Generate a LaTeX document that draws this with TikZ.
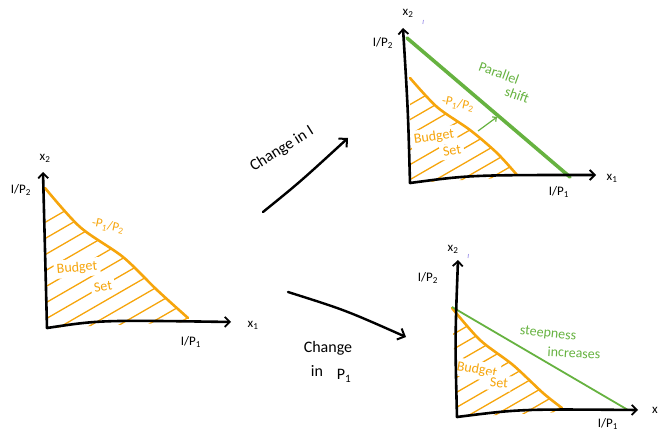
\documentclass[tikz,border=0pt]{standalone}
\usepackage{fontspec}
\setmainfont{Carlito}
\usetikzlibrary{arrows.meta}
\definecolor{budgetorange}{RGB}{246,165,12}
\definecolor{shiftgreen}{RGB}{102,178,64}
\definecolor{tickpurple}{RGB}{165,155,235}
\newcommand{\sub}[1]{\textsubscript{#1}}

\begin{document}
\begin{tikzpicture}[x=1pt, y=-1pt,
    axis/.style={line width=2.6pt, line cap=round, -{Straight Barb[length=5pt,width=10pt,line width=1.8pt]}},
    budget/.style={budgetorange, line width=2.6pt, line cap=round},
    hatch/.style={budgetorange, line width=1.3pt},
    lbl/.style={font=\fontsize{13}{15}\selectfont, inner sep=1pt},
    note/.style={font=\fontsize{14}{16}\selectfont, inner sep=1pt},
    setnote/.style={note, budgetorange, fill=white, inner sep=3pt},
    bignote/.style={font=\fontsize{16}{18}\selectfont, inner sep=1pt},
    bigarrow/.style={line width=2.4pt, line cap=round, -{Straight Barb[length=6pt,width=12pt,line width=2pt]}}]
\useasboundingbox (0,0) rectangle (662,436);

% left: the budget set
\coordinate (lO) at (47,328);
\begin{scope}
  \clip plot[smooth] coordinates {(45,188) (80,227) (123,257) (157,290) (188,318)} -- (188,322) -- (lO) -- cycle;
  \foreach \s in {-150,-122,...,200}
    \draw[hatch] (\s,335) -- ++(30:260pt);
\end{scope}
\node[setnote, rotate=5] (lbud) at (77,268) {Budget};
\node[setnote, rotate=10] (lset) at (103,287) {Set};
\draw[budget] plot[smooth] coordinates {(45,188) (80,227) (123,257) (157,290) (188,318)};
\draw[axis] (lO) .. controls (45,250) .. (43,172);
\draw[axis] (lO) .. controls (100,320) .. (231,322);
\node[lbl] (lx2) at (45,158) {x\sub{2}};
\node[lbl] (lI2) at (21,190) {I/P\sub{2}};
\node[lbl] (lx1) at (253,325) {x\sub{1}};
\node[lbl] (lI1) at (191,342) {I/P\sub{1}};
\node[lbl, budgetorange, rotate=-12] (lslope) at (108,226) {-P\sub{1}/P\sub{2}};

% top right: change in I
\coordinate (tO) at (410,183);
\begin{scope}
  \clip plot[smooth] coordinates {(410,78) (437,107) (470,130) (497,153) (517,175)} -- (517,177) -- (tO) -- cycle;
  \foreach \s in {236,262,...,540}
    \draw[hatch] (\s,190) -- ++(30:200pt);
\end{scope}
\node[setnote, rotate=8] (tbud) at (434,137) {Budget};
\node[setnote, rotate=10] (tset) at (452,151) {Set};
\draw[budget] plot[smooth] coordinates {(410,78) (437,107) (470,130) (497,153) (517,175)};
\draw[shiftgreen, line width=3.6pt, line cap=round] (407,38) -- (570,177);
\draw[axis] (tO) .. controls (408,110) .. (403,28);
\draw[axis] (tO) .. controls (470,175) .. (596,175);
\draw[tickpurple, line width=0.8pt] (423.5,20) -- (422.8,24);
\draw[shiftgreen, line width=1.2pt, -{Straight Barb[length=3pt,width=6pt]}] (478,131) -- (497,117);
\node[lbl] (tx2) at (408,13) {x\sub{2}};
\node[lbl] (tI2) at (383,43) {I/P\sub{2}};
\node[lbl] (tx1) at (612,178) {x\sub{1}};
\node[lbl] (tI1) at (559,192) {I/P\sub{1}};
\node[lbl, budgetorange, rotate=-12] (tslope) at (458,104) {-P\sub{1}/P\sub{2}};
\node[note, shiftgreen, rotate=-20] (tpar) at (499,73) {Parallel};
\node[note, shiftgreen, rotate=-20] (tshift) at (517,95) {shift};

% bottom right: change in P1
\coordinate (bO) at (457,417);
\begin{scope}
  \clip plot[smooth] coordinates {(452,308) (480,340) (513,365) (543,393) (562,408)} -- (562,412) -- (bO) -- cycle;
  \foreach \s in {296,322,...,580}
    \draw[hatch] (\s,425) -- ++(30:200pt);
\end{scope}
\node[setnote, rotate=-10] (bbud) at (477,370) {Budget};
\node[setnote, rotate=-5] (bset) at (499,383) {Set};
\draw[budget] plot[smooth] coordinates {(452,308) (480,340) (513,365) (543,393) (562,408)};
\draw[shiftgreen, line width=1.8pt] (452,307) -- (628,410);
\draw[axis] (bO) .. controls (455,340) .. (458,260);
\draw[axis] (bO) .. controls (520,409) .. (638,410);
\draw[tickpurple, line width=0.8pt] (468.5,254) -- (468,258);
\node[lbl] (bx2) at (453,249) {x\sub{2}};
\node[lbl] (bI2) at (428,278) {I/P\sub{2}};
\node[lbl] (bx) at (655,410) {x};
\node[lbl] (bI1) at (608,424) {I/P\sub{1}};
\node[note, shiftgreen, rotate=-6] (bsteep) at (548,334) {steepness};
\node[note, shiftgreen, rotate=-3] (binc) at (574,353) {increases};

% the two changes
\coordinate (a1s) at (263,212);
\coordinate (a1e) at (348,138);
\draw[bigarrow] (a1s) .. controls (300,182) .. (a1e);
\node[bignote, rotate=32] (chI) at (282,149) {Change in I};
\coordinate (a2s) at (288,292);
\coordinate (a2e) at (406,337);
\draw[bigarrow] (a2s) .. controls (345,310) .. (a2e);
\node[bignote] (chP) at (328,348) {Change};
\node[bignote] (chin) at (317,371) {in};
\node[bignote] (chP1) at (344,376) {P\sub{1}};
\end{tikzpicture}
\end{document}
